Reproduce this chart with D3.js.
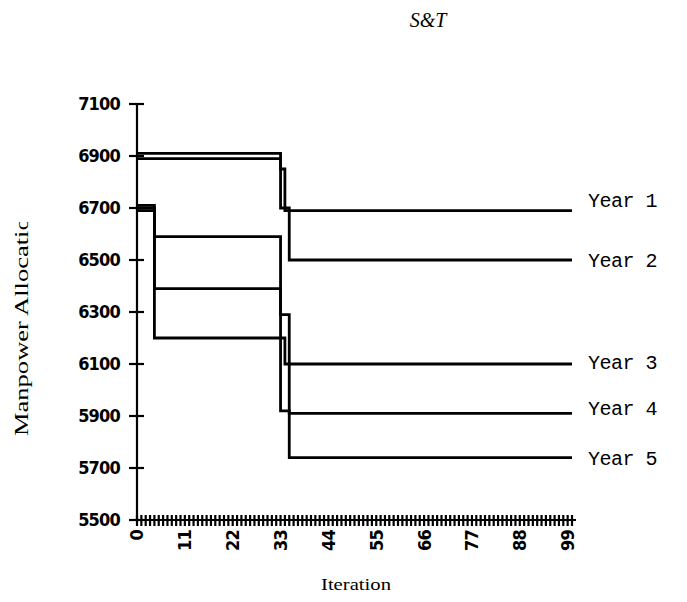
<!DOCTYPE html>
<html><head><meta charset="utf-8">
<script src="https://cdn.jsdelivr.net/npm/d3@7"></script>
<style>body{margin:0;background:#fff}svg{display:block}</style>
</head><body>
<svg id="c" width="687" height="602"></svg>
<script>
// ---- data ----
const title = "S&T";
const yLabel = "Manpower Allocation";
const xLabel = "Iteration";
const seriesNames = ["Year 1","Year 2","Year 3","Year 4","Year 5"];
// change points [iteration, value]; value holds until next point
const year1 = [[0,6910],[33,6850],[34,6690],[100,6690]];
const year2 = [[0,6890],[33,6700],[35,6500],[100,6500]];
const year3 = [[0,6700],[4,6590],[33,6290],[35,6100],[100,6100]];
const year4 = [[0,6710],[4,6390],[33,6200],[34,6100],[35,5910],[100,5910]];
const year5 = [[0,6690],[4,6200],[33,5920],[35,5740],[100,5740]];
const yTicks = [5500,5700,5900,6100,6300,6500,6700,6900,7100];
const xTickLabels = [0,11,22,33,44,55,66,77,88,99];
const xMinorTicks = d3.range(0,101);

const series = [year1,year2,year3,year4,year5];
const labelDy = [-4, 7, 5, 2, 7];

const svg = d3.select("#c");
const x = d3.scaleLinear().domain([0,100]).range([137,572]);
const y = d3.scaleLinear().domain([5500,7100]).range([520,104]);

// title
svg.append("text").attr("x",428).attr("y",27).attr("text-anchor","middle")
  .attr("font-family","Liberation Serif").attr("font-style","italic").attr("font-size",20)
  .text(title);

// y axis
const yAxis = svg.append("g").attr("transform",`translate(${x(0)},0)`);
yAxis.append("line").attr("x1",0).attr("x2",0).attr("y1",y(7100)).attr("y2",y(5500))
  .attr("stroke","#000").attr("stroke-width",2.2);
yAxis.selectAll("line.t").data(yTicks).join("line").attr("class","t")
  .attr("x1",-8).attr("x2",7).attr("y1",d=>y(d)).attr("y2",d=>y(d))
  .attr("stroke","#000").attr("stroke-width",2.2);
yAxis.selectAll("text").data(yTicks).join("text")
  .attr("x",-17).attr("y",d=>y(d)).attr("dy","0.36em").attr("text-anchor","end")
  .attr("font-family","DejaVu Sans Condensed, DejaVu Sans").attr("font-size",18)
  .attr("font-weight","bold").attr("letter-spacing",-0.8)
  .text(d=>d);

// x axis
const xAxis = svg.append("g").attr("transform",`translate(0,${y(5500)})`);
xAxis.append("line").attr("x1",x(0)).attr("x2",x(100)+4).attr("y1",0).attr("y2",0)
  .attr("stroke","#000").attr("stroke-width",2.2);
xAxis.selectAll("line.m").data(xMinorTicks).join("line").attr("class","m")
  .attr("x1",d=>x(d)).attr("x2",d=>x(d)).attr("y1",-5).attr("y2",6)
  .attr("stroke","#000").attr("stroke-width",2.2);
xAxis.selectAll("text").data(xTickLabels).join("text")
  .attr("transform",d=>`translate(${x(d)},10) rotate(-90)`)
  .attr("dy","0.36em").attr("text-anchor","end")
  .attr("font-family","DejaVu Sans Condensed, DejaVu Sans").attr("font-size",18)
  .attr("font-weight","bold").attr("letter-spacing",-0.8)
  .text(d=>d);

// axis labels
svg.append("defs").append("clipPath").attr("id","yl")
  .append("rect").attr("x",0).attr("y",222).attr("width",60).attr("height",300);
svg.append("g").attr("clip-path","url(#yl)").append("text")
  .attr("transform","translate(22,436) rotate(-90)")
  .attr("dy","0.35em").attr("text-anchor","start")
  .attr("font-family","Liberation Serif").attr("font-size",18)
  .attr("textLength",232).attr("lengthAdjust","spacingAndGlyphs")
  .text(yLabel);
svg.append("text").attr("x",356).attr("y",590).attr("text-anchor","middle")
  .attr("font-family","Liberation Serif").attr("font-size",16)
  .attr("textLength",70).attr("lengthAdjust","spacingAndGlyphs")
  .text(xLabel);

// lines
const line = d3.line().x(d=>x(d[0])).y(d=>y(d[1])).curve(d3.curveStepAfter);
svg.selectAll("path.s").data(series).join("path").attr("class","s")
  .attr("d",line).attr("fill","none").attr("stroke","#000").attr("stroke-width",2.8);

// series labels
svg.selectAll("text.lab").data(series).join("text").attr("class","lab")
  .attr("x",588).attr("y",(d,i)=>y(d[d.length-1][1])+labelDy[i])
  .attr("font-family","Liberation Mono").attr("font-size",20)
  .attr("letter-spacing",-0.5)
  .text((d,i)=>seriesNames[i]);
</script>
</body></html>
